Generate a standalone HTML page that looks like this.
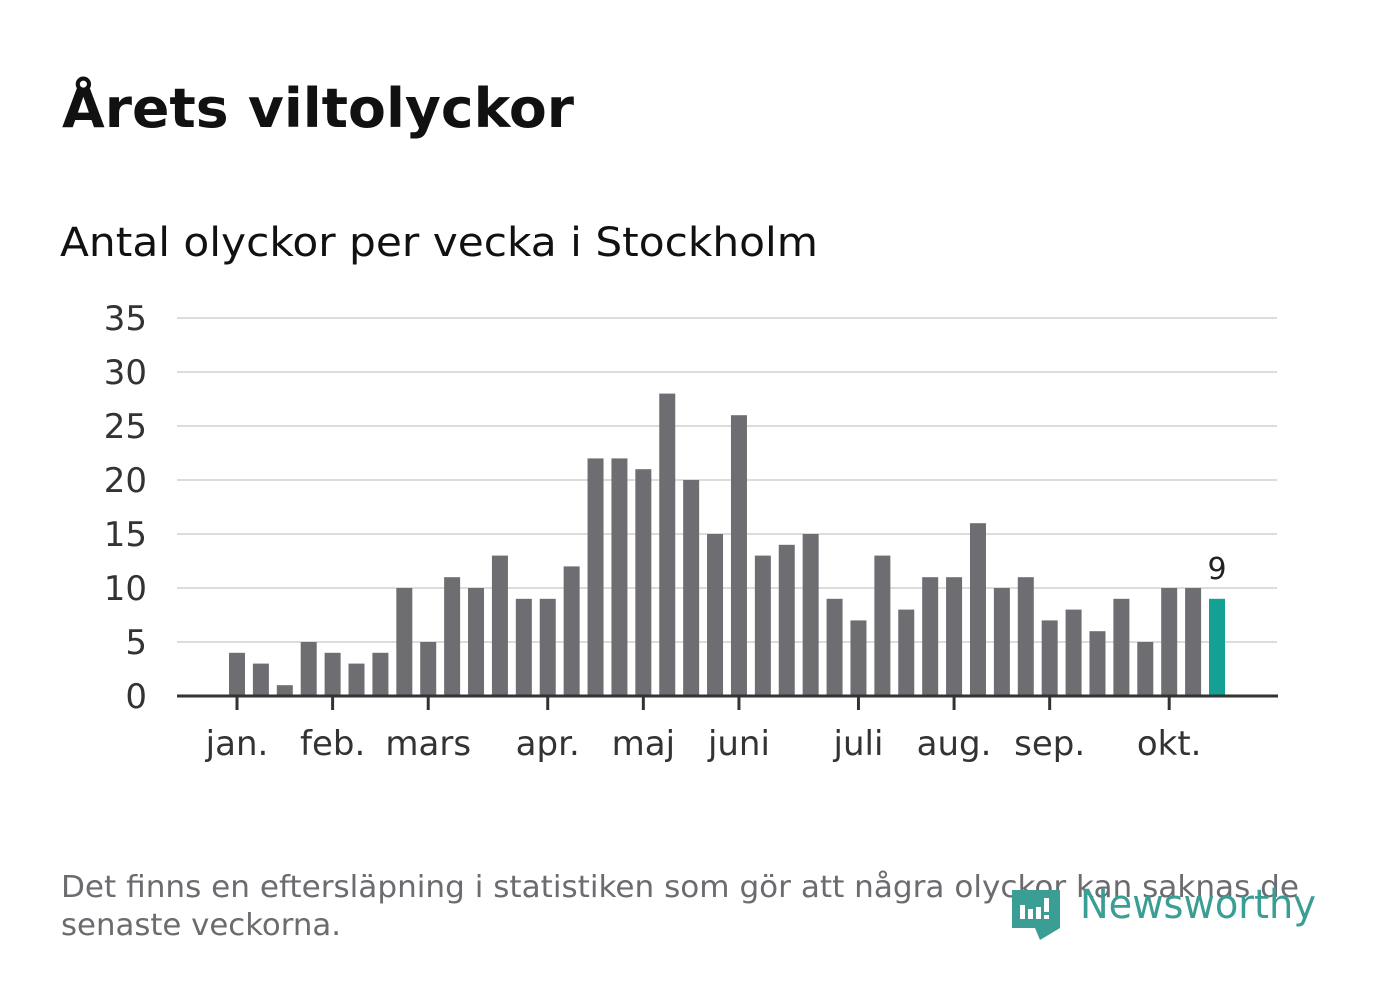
<!DOCTYPE html>
<html><head><meta charset="utf-8"><style>
html,body{margin:0;padding:0;background:#fff;width:1382px;height:999px;overflow:hidden}
svg{display:block;font-family:"DejaVu Sans","Liberation Sans",sans-serif}
</style></head><body>
<svg id="c" width="1382" height="999">
<text x="62" y="127" font-size="54" font-weight="bold" fill="#111" textLength="512" lengthAdjust="spacingAndGlyphs">Årets viltolyckor</text>
<text x="60" y="256" font-size="40" fill="#111" textLength="758" lengthAdjust="spacingAndGlyphs">Antal olyckor per vecka i Stockholm</text>
<g id="grid"></g><g id="bars"></g><g id="axis"></g>
<text x="61" y="897" font-size="30" fill="#6b6b70" textLength="1238" lengthAdjust="spacingAndGlyphs">Det finns en eftersläpning i statistiken som gör att några olyckor kan saknas de</text>
<text x="61" y="935" font-size="30" fill="#6b6b70" textLength="280" lengthAdjust="spacingAndGlyphs">senaste veckorna.</text>
<g>
<path d="M1012 890 H1060 V928 L1040 940 L1035 928 H1012 Z" fill="#3a9e94"/>
<rect x="1020" y="905" width="5" height="14" fill="#fff"/><rect x="1028" y="909" width="5" height="10" fill="#fff"/><rect x="1036" y="907" width="5" height="12" fill="#fff"/><rect x="1044" y="898" width="5" height="14" fill="#fff"/><rect x="1044" y="915" width="5" height="4" fill="#fff"/>
<text x="1080" y="918" font-size="40" fill="#3a9e94" textLength="236" lengthAdjust="spacingAndGlyphs">Newsworthy</text>
</g>
</svg>
<script>
const values=[4,3,1,5,4,3,4,10,5,11,10,13,9,9,12,22,22,21,28,20,15,26,13,14,15,9,7,13,8,11,11,16,10,11,7,8,6,9,5,10,10,9];
const yTicks=[0,5,10,15,20,25,30,35];
const monthLabels=["jan.","feb.","mars","apr.","maj","juni","juli","aug.","sep.","okt."];
const monthIdx=[0,4,8,13,17,21,26,30,34,39];
const NS="http://www.w3.org/2000/svg";
const y=v=>696-v*(378/35);
const x=i=>237+i*(1217-237)/41;
function mk(t,a,p){const e=document.createElementNS(NS,t);for(const k in a)e.setAttribute(k,a[k]);p.appendChild(e);return e;}
const grid=document.getElementById('grid'),bars=document.getElementById('bars'),axis=document.getElementById('axis');
yTicks.forEach(t=>{
 if(t>0){const l=mk('line',{x1:177,x2:1277,y1:y(t),y2:y(t),stroke:'#dcdcdc','stroke-width':2},grid);
 
 }
 const tx=mk('text',{x:147,y:y(t)+12,'font-size':34,fill:'#333','text-anchor':'end'},grid);
 tx.textContent=t;
 
 
});
values.forEach((v,i)=>{
 const last=i===values.length-1;
 const r=mk('rect',{x:x(i)-8,y:y(v),width:16,height:y(0)-y(v),fill:last?'#13a196':'#6e6d72'},bars);
 
 
 if(last){const t=mk('text',{x:x(i),y:y(v)-20,'font-size':30,fill:'#222','text-anchor':'middle'},bars);t.textContent=v;
 
 }
});
const ax=mk('line',{x1:177,x2:1278,y1:696,y2:696,stroke:'#333','stroke-width':3},axis);


monthIdx.forEach((m,k)=>{
 const tk=mk('line',{x1:x(m),x2:x(m),y1:696,y2:710,stroke:'#333','stroke-width':3},axis);
 
 
 const t=mk('text',{x:x(m),y:755,'font-size':34,fill:'#333','text-anchor':'middle'},axis);
 t.textContent=monthLabels[k];
 
 
});
</script>
</body></html>
